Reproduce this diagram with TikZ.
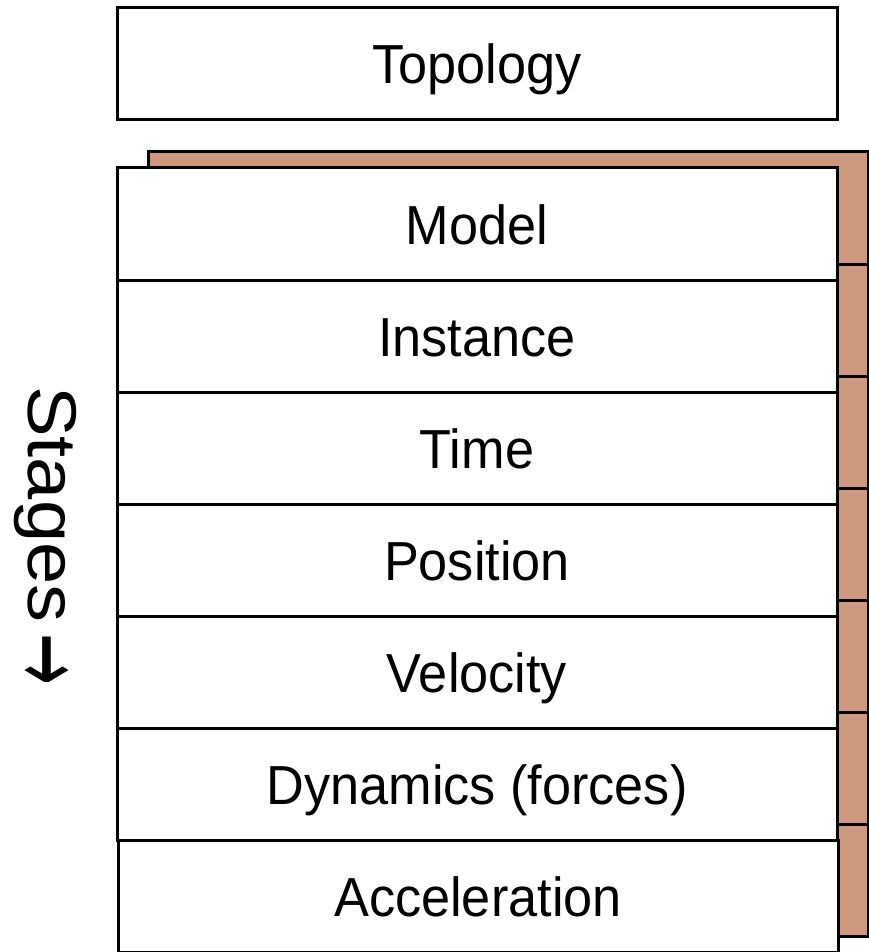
\documentclass[tikz,border=0pt]{standalone}
\usepackage{fontspec}
\setmainfont{Liberation Sans}
\newfontfamily\boxfont[FakeStretch=0.95]{Liberation Sans}
\newfontfamily\sidefont[FakeStretch=1.1]{Liberation Sans}
\newfontfamily\arrowfont[FakeStretch=0.9]{DejaVu Sans}
\usetikzlibrary{positioning}
\definecolor{clay}{RGB}{204,153,128}
\tikzset{
  stagebox/.style={draw, line width=3pt, fill=white, outer sep=0pt, inner sep=0pt,
    minimum width=720pt, minimum height=112pt, text height=52pt, text depth=12pt,
    font=\boxfont\fontsize{55}{60}\selectfont},
  backbox/.style={stagebox, fill=clay},
}
\begin{document}
\begin{tikzpicture}[x=1pt, y=-1pt]
  \useasboundingbox (0,0) rectangle (869,952);

  % brown stack sitting behind the stages
  \foreach \i in {0,...,6}
    \node[backbox] (back\i) at (508.5, 208+\i*112) {};

  \node[stagebox] at (477, 64) (topo) {Topology};

  \node[stagebox] at (477, 224) (model) {Model};
  \node[stagebox, below=0pt of model] (inst) {Instance};
  \node[stagebox, below=0pt of inst] (time) {Time};
  \node[stagebox, below=0pt of time] (pos) {Position};
  \node[stagebox, below=0pt of pos] (vel) {Velocity};
  \node[stagebox, below=0pt of vel] (dyn) {Dynamics (forces)};
  \node[stagebox, below=0pt of dyn, xshift=1pt] (acc) {Acceleration};

  \node[rotate=-90, inner sep=0pt, font=\sidefont\fontsize{69}{70}\selectfont]
    at (45, 536) (stages) {Stages\,{\arrowfont\raisebox{-0.2em}{\scalebox{1}[1.5]{→}}}};
\end{tikzpicture}
\end{document}
